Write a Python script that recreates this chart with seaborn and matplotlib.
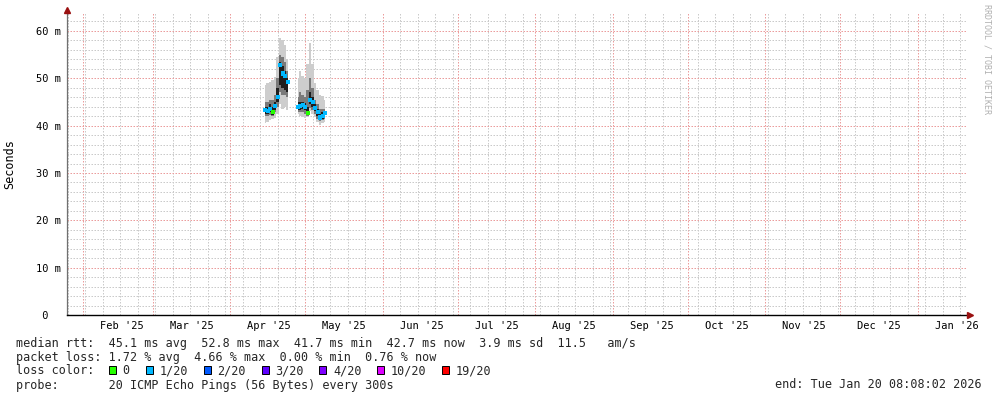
import numpy as np
import pandas as pd
import matplotlib
matplotlib.use("Agg")
import matplotlib.pyplot as plt
import matplotlib.dates as mdates
from matplotlib.ticker import FixedLocator
from matplotlib.patches import Rectangle
import seaborn as sns

# ---------------- data ----------------
dates = ["2025-04-15", "2025-04-16", "2025-04-17", "2025-04-18", "2025-04-19",
         "2025-04-20", "2025-04-21", "2025-04-22", "2025-04-23", "2025-04-24",
         "2025-04-25", "2025-04-26", "2025-04-27", "2025-04-28", "2025-04-29",
         "2025-04-30", "2025-05-01", "2025-05-02", "2025-05-03", "2025-05-04",
         "2025-05-05", "2025-05-06", "2025-05-07", "2025-05-08", "2025-05-09"]
nan = np.nan
median_ms = [43.3, 43.1, 43.5, 42.9, 44.1, 46.0, 52.8, 51.0, 50.5, 49.2,
             nan, nan, nan, 44.0, 44.1, 44.3, 44.0, 42.6, 45.5, 45.0,
             43.8, 42.8, 41.7, 42.0, 42.7]
loss_class = ["1/20", "1/20", "1/20", "0", "1/20", "1/20", "1/20", "1/20", "1/20", "1/20",
              "1/20", "1/20", "1/20", "1/20", "1/20", "1/20", "1/20", "0", "1/20", "1/20",
              "1/20", "1/20", "1/20", "1/20", "1/20"]
smoke_hi = [48.6, 49.0, 49.3, 49.6, 50.3, 54.5, 58.5, 58.0, 57.0, 54.0,
            nan, nan, nan, 50.0, 51.5, 50.5, 50.0, 53.0, 57.5, 53.0,
            49.0, 47.5, 46.5, 46.2, 45.5]
smoke_lo = [40.6, 40.8, 41.2, 41.3, 41.6, 42.5, 44.5, 43.5, 44.0, 43.3,
            nan, nan, nan, 42.5, 42.0, 41.8, 41.6, 41.8, 43.0, 42.5,
            41.8, 40.8, 40.2, 40.5, 40.8]
quart_hi = [45.0, 45.0, 45.5, 45.5, 46.5, 50.0, 55.0, 54.5, 53.5, 51.5,
            nan, nan, nan, 46.0, 47.0, 46.5, 46.0, 47.5, 50.0, 48.0,
            45.5, 44.5, 43.5, 43.5, 43.5]
quart_lo = [42.0, 42.0, 42.3, 42.0, 42.8, 44.0, 47.0, 46.5, 46.5, 46.0,
            nan, nan, nan, 42.8, 42.8, 42.8, 42.5, 42.0, 43.8, 43.2,
            42.5, 41.5, 41.0, 41.2, 41.5]
core_hi = [44.0, 44.0, 44.5, 44.0, 45.0, 48.0, 53.5, 52.5, 51.5, 50.0,
           nan, nan, nan, 45.0, 45.0, 45.0, 44.8, 44.0, 47.0, 46.0,
           44.5, 43.5, 42.5, 42.8, 43.0]
core_lo = [42.5, 42.5, 42.8, 42.3, 43.3, 45.0, 48.5, 48.0, 47.5, 47.0,
           nan, nan, nan, 43.3, 43.3, 43.5, 43.2, 42.2, 44.5, 44.0,
           43.0, 42.0, 41.3, 41.5, 41.8]

ytick_values = [0, 10, 20, 30, 40, 50, 60]
ytick_labels = [" 0", "10 m", "20 m", "30 m", "40 m", "50 m", "60 m"]
month_labels = ["Feb '25", "Mar '25", "Apr '25", "May '25", "Jun '25", "Jul '25",
                "Aug '25", "Sep '25", "Oct '25", "Nov '25", "Dec '25", "Jan '26"]
month_starts = ["2025-02-01", "2025-03-01", "2025-04-01", "2025-05-01", "2025-06-01",
                "2025-07-01", "2025-08-01", "2025-09-01", "2025-10-01", "2025-11-01",
                "2025-12-01", "2026-01-01"]
loss_legend = ["0", "1/20", "2/20", "3/20", "4/20", "10/20", "19/20"]
loss_colors = ["#26ff00", "#00b8ff", "#0059ff", "#5e00ff", "#7e00ff", "#dd00ff", "#ff0000"]

line1 = "median rtt:  45.1 ms avg  52.8 ms max  41.7 ms min  42.7 ms now  3.9 ms sd  11.5   am/s"
line2 = "packet loss: 1.72 % avg  4.66 % max  0.00 % min  0.76 % now"
line4 = "probe:       20 ICMP Echo Pings (56 Bytes) every 300s"
end_text = "end: Tue Jan 20 08:08:02 2026"

# ---------------- style ----------------
sns.set_theme(style="white")
MONO = "DejaVu Sans Mono"
plt.rcParams["font.family"] = [MONO, "DejaVu Sans"]

W, H = 997, 397
fig = plt.figure(figsize=(W / 100, H / 100), dpi=100)
fig.patch.set_facecolor("white")
ax = fig.add_axes([67 / W, (H - 315) / H, 900 / W, 303 / H])
ax.set_facecolor("white")

def fx(px):
    return px / W

def fy(py):
    return 1 - py / H

df = pd.DataFrame({"date": pd.to_datetime(dates), "median": median_ms, "loss": loss_class})
d = df["date"]

# smoke
ax.fill_between(d, smoke_lo, smoke_hi, step="mid", color="#cdcdcd", linewidth=0, zorder=2)
ax.fill_between(d, quart_lo, quart_hi, step="mid", color="#7a7a7a", linewidth=0, zorder=3)
ax.fill_between(d, core_lo, core_hi, step="mid", color="#1e1e1e", linewidth=0, zorder=4)

# median coloured by loss
sns.scatterplot(data=df.dropna(subset=["median"]), x="date", y="median", hue="loss",
                palette={"0": loss_colors[0], "1/20": loss_colors[1]},
                marker="s", s=9, linewidth=0, legend=False, ax=ax, zorder=5)

start = pd.Timestamp("2025-01-25 17:20")
end = start + pd.Timedelta(days=360)
ax.set_xlim(start, end)
ax.set_ylim(0, 64)

# grid
ax.yaxis.set_major_locator(FixedLocator(ytick_values))
ax.yaxis.set_minor_locator(FixedLocator([v for v in range(2, 63, 2) if v % 10]))
ax.xaxis.set_major_locator(mdates.MonthLocator())
ax.xaxis.set_minor_locator(mdates.WeekdayLocator(byweekday=mdates.SU))
ax.grid(which="minor", color="#cacaca", linestyle=(0, (1.5, 1.5)), linewidth=0.72, zorder=0)
ax.grid(which="major", color="#eb9c9c", linestyle=(0, (1.5, 1.5)), linewidth=0.72, zorder=0)
ax.set_axisbelow(True)
ax.tick_params(labelbottom=False, labelleft=False)
ax.tick_params(which="major", length=3, direction="inout", color="#555555", width=0.7)
ax.tick_params(which="minor", length=2, direction="inout", color="#888888", width=0.7)
ax.set_xlabel("")
ax.set_ylabel("")

for s in ["top", "right"]:
    ax.spines[s].set_visible(False)
ax.spines["left"].set_color("#707070")
ax.spines["left"].set_linewidth(0.9)
ax.spines["bottom"].set_color("black")
ax.spines["bottom"].set_linewidth(1.0)

# axis arrows
ax.plot([0], [1 + 2 / 303], marker="^", markersize=4.5, color="#9a1010",
        transform=ax.transAxes, clip_on=False, zorder=10)
ax.plot([1 + 3 / 900], [0], marker=">", markersize=4.5, color="#9a1010",
        transform=ax.transAxes, clip_on=False, zorder=10)

# y tick labels
ytr = ax.get_yaxis_transform()
for v, lab in zip(ytick_values, ytick_labels):
    ax.text((36 - 67) / 900, v, lab, transform=ytr, ha="left", va="center_baseline",
            fontsize=7.5, family=MONO, color="black")

# x tick labels (centred mid-month)
xtr = ax.get_xaxis_transform()
for ms, lab in zip(month_starts, month_labels):
    xpos = mdates.date2num(pd.Timestamp(ms) + pd.Timedelta(days=15.5))
    ax.text(xpos, (315 - 329) / 303, lab, transform=xtr, ha="center", va="baseline",
            fontsize=7.5, family=MONO, color="black")

# y-axis title
fig.text(fx(10), fy(164), "Seconds", rotation=90, ha="center", va="center",
         fontsize=8.5, family=MONO, color="black")

# watermark
fig.text(fx(987), fy(4), "RRDTOOL / TOBI OETIKER", rotation=270, ha="center", va="top",
         fontsize=6, family=MONO, color="#b0b0b0")

# legend lines
fs = 8.5
fig.text(fx(16), fy(346.5), line1, ha="left", va="baseline", fontsize=fs, family=MONO)
fig.text(fx(16), fy(360.5), line2, ha="left", va="baseline", fontsize=fs, family=MONO)
fig.text(fx(16), fy(374.5), "loss color:", ha="left", va="baseline", fontsize=fs, family=MONO)
box_x = [108.5, 145.5, 203.5, 261.5, 319, 376.5, 441.5]
lab_x = [122.5, 160, 217.5, 275.5, 333, 390.5, 456]
for bx, lx, lab, col in zip(box_x, lab_x, loss_legend, loss_colors):
    fig.patches.append(Rectangle((fx(bx), fy(373.5)), 7 / W, 8 / H, transform=fig.transFigure,
                                 facecolor=col, edgecolor="black", linewidth=0.7))
    fig.text(fx(lx), fy(374.5), lab, ha="left", va="baseline", fontsize=fs, family=MONO)
fig.text(fx(16), fy(388.5), line4, ha="left", va="baseline", fontsize=fs, family=MONO)
fig.text(fx(775), fy(388.5), end_text, ha="left", va="baseline", fontsize=fs, family=MONO)

fig.savefig("out.png", dpi=100, facecolor="white")
